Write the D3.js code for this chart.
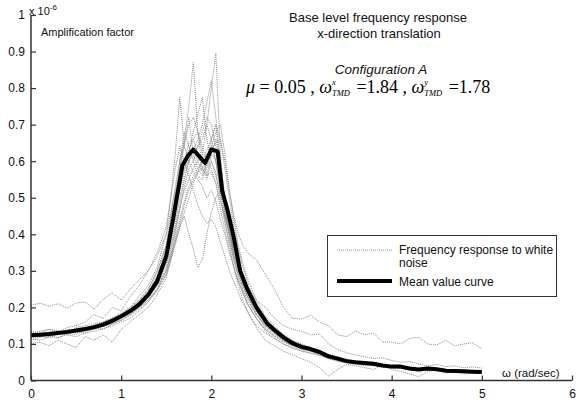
<!DOCTYPE html>
<html>
<head>
<meta charset="utf-8">
<script src="https://cdn.jsdelivr.net/npm/d3@7"></script>
<style>
  body { margin: 0; background: #fff; }
  svg { font-family: 'Liberation Sans', Arial, sans-serif; }
</style>
</head>
<body>
<script>
// mean value curve
const meanOmega = [0,0.1,0.2,0.3,0.4,0.5,0.6,0.7,0.8,0.9,1.0,1.1,1.2,1.3,1.4,1.5,
  1.58,1.68,1.74,1.8,1.87,1.93,2.0,2.07,2.12,2.18,2.25,2.32,2.39,
  2.5,2.62,2.7,2.8,2.9,
  3.0,3.1,3.2,3.3,3.4,3.5,3.6,3.7,3.8,3.9,4.0,4.1,4.2,4.3,4.4,4.5,4.6,4.7,4.8,4.9,5.0]
const meanValue = [0.124,0.125,0.127,0.130,0.133,0.137,0.141,0.146,0.153,0.163,0.176,0.190,0.208,0.234,0.272,0.34,
  0.447,0.589,0.615,0.632,0.612,0.595,0.632,0.627,0.52,0.466,0.39,0.30,0.255,
  0.20,0.156,0.138,0.118,0.102,
  0.092,0.086,0.078,0.066,0.060,0.053,0.050,0.048,0.046,0.041,0.038,0.038,0.033,0.030,0.033,0.031,0.027,0.026,0.025,0.024,0.023]

// white noise runs, sampled on this grid
const traceOmega = [0,0.1,0.2,0.3,0.4,0.5,0.6,0.7,0.8,0.9,1.0,1.1,1.2,1.3,1.4,
  1.5,1.55,1.6,1.65,1.7,1.75,1.8,1.85,1.9,1.95,2.0,2.05,2.1,2.15,2.2,2.25,2.3,2.35,2.4,2.45,2.5,
  2.6,2.7,2.8,2.9,3.0,3.1,3.2,3.3,3.4,3.5,3.6,3.7,3.8,3.9,4.0,4.1,4.2,4.3,4.4,4.5,4.6,4.7,4.8,4.9,5.0]

const run1 = [0.118,0.122,0.116,0.128,0.125,0.134,0.13,0.142,0.148,0.158,0.17,0.182,0.2,0.225,0.26,
  0.31,0.36,0.42,0.47,0.52,0.55,0.58,0.6,0.62,0.7,0.8,0.895,0.62,0.48,0.41,0.35,0.3,0.27,0.235,0.21,0.185,
  0.15,0.13,0.11,0.095,0.088,0.08,0.074,0.068,0.058,0.052,0.049,0.046,0.044,0.04,0.036,0.039,0.032,0.029,0.031,0.03,0.026,0.027,0.024,0.023,0.022]
const run2 = [0.13,0.126,0.133,0.127,0.138,0.132,0.146,0.14,0.156,0.165,0.175,0.195,0.215,0.245,0.29,
  0.36,0.43,0.5,0.58,0.66,0.75,0.87,0.68,0.58,0.55,0.6,0.57,0.5,0.43,0.38,0.33,0.29,0.26,0.23,0.205,0.18,
  0.145,0.125,0.112,0.098,0.09,0.082,0.07,0.065,0.056,0.05,0.052,0.045,0.043,0.042,0.037,0.036,0.034,0.03,0.034,0.029,0.028,0.024,0.026,0.023,0.022]
const run3 = [0.125,0.13,0.124,0.135,0.13,0.14,0.135,0.15,0.16,0.17,0.185,0.2,0.23,0.26,0.31,
  0.4,0.5,0.62,0.775,0.64,0.6,0.57,0.55,0.53,0.5,0.52,0.49,0.44,0.4,0.35,0.31,0.27,0.24,0.21,0.19,0.17,
  0.14,0.12,0.105,0.095,0.085,0.08,0.073,0.062,0.058,0.055,0.048,0.047,0.045,0.04,0.04,0.036,0.032,0.031,0.032,0.03,0.027,0.026,0.024,0.025,0.022]
const run4 = [0.12,0.124,0.13,0.126,0.132,0.136,0.14,0.148,0.15,0.162,0.172,0.188,0.205,0.23,0.265,
  0.32,0.37,0.43,0.5,0.55,0.6,0.63,0.66,0.7,0.76,0.82,0.72,0.6,0.5,0.44,0.38,0.33,0.29,0.26,0.23,0.205,
  0.165,0.14,0.122,0.105,0.095,0.088,0.08,0.07,0.062,0.055,0.051,0.049,0.045,0.042,0.04,0.037,0.034,0.03,0.033,0.032,0.028,0.025,0.026,0.024,0.023]
const run5 = [0.128,0.12,0.128,0.133,0.128,0.14,0.145,0.142,0.155,0.16,0.18,0.19,0.21,0.24,0.28,
  0.35,0.41,0.47,0.52,0.57,0.62,0.68,0.73,0.775,0.66,0.6,0.56,0.51,0.46,0.41,0.36,0.31,0.27,0.24,0.22,0.19,
  0.155,0.135,0.12,0.1,0.094,0.086,0.079,0.067,0.061,0.052,0.05,0.05,0.046,0.041,0.039,0.039,0.033,0.031,0.034,0.031,0.028,0.026,0.025,0.024,0.023]
const run6 = [0.122,0.128,0.12,0.13,0.136,0.13,0.14,0.15,0.148,0.16,0.17,0.186,0.2,0.22,0.25,
  0.3,0.34,0.38,0.42,0.45,0.4,0.36,0.31,0.33,0.4,0.46,0.5,0.52,0.48,0.43,0.37,0.32,0.28,0.25,0.22,0.2,
  0.16,0.14,0.12,0.104,0.094,0.088,0.077,0.068,0.059,0.054,0.05,0.047,0.047,0.042,0.038,0.037,0.034,0.029,0.033,0.03,0.027,0.026,0.025,0.024,0.023]
const run7 = [0.205,0.212,0.203,0.21,0.198,0.212,0.215,0.195,0.222,0.24,0.22,0.25,0.275,0.3,0.35,
  0.42,0.5,0.58,0.64,0.6,0.56,0.52,0.48,0.45,0.43,0.44,0.42,0.38,0.34,0.3,0.27,0.24,0.21,0.19,0.17,0.15,
  0.13,0.115,0.1,0.09,0.082,0.075,0.07,0.06,0.055,0.05,0.046,0.044,0.04,0.038,0.035,0.034,0.03,0.029,0.03,0.028,0.026,0.025,0.023,0.022,0.021]
const run8 = [0.11,0.118,0.125,0.115,0.13,0.125,0.138,0.145,0.14,0.155,0.165,0.18,0.2,0.22,0.25,
  0.29,0.33,0.37,0.42,0.46,0.5,0.54,0.57,0.6,0.63,0.66,0.7,0.66,0.6,0.52,0.45,0.4,0.37,0.35,0.34,0.33,
  0.29,0.25,0.2,0.17,0.168,0.178,0.16,0.15,0.125,0.12,0.135,0.125,0.13,0.105,0.105,0.1,0.115,0.118,0.1,0.097,0.11,0.095,0.1,0.103,0.086]
const run9 = [0.135,0.13,0.14,0.136,0.128,0.145,0.15,0.155,0.16,0.172,0.18,0.2,0.22,0.25,0.3,
  0.37,0.45,0.53,0.6,0.65,0.7,0.72,0.68,0.64,0.6,0.58,0.54,0.49,0.45,0.4,0.36,0.31,0.28,0.26,0.24,0.22,
  0.2,0.17,0.15,0.14,0.135,0.125,0.127,0.1,0.085,0.076,0.07,0.065,0.06,0.062,0.055,0.05,0.052,0.045,0.04,0.044,0.038,0.04,0.035,0.037,0.034]
const run10 = [0.115,0.11,0.12,0.118,0.125,0.12,0.13,0.135,0.142,0.15,0.16,0.17,0.19,0.215,0.25,
  0.3,0.35,0.41,0.48,0.55,0.6,0.64,0.6,0.57,0.59,0.62,0.6,0.52,0.44,0.37,0.31,0.26,0.22,0.19,0.165,0.145,
  0.11,0.095,0.08,0.07,0.06,0.05,0.035,0.012,0.03,0.045,0.04,0.035,0.03,0.042,0.03,0.025,0.018,0.01,0.025,0.028,0.02,0.024,0.018,0.02,0.019]
const run11 = [0.1,0.105,0.095,0.11,0.1,0.09,0.12,0.11,0.125,0.105,0.14,0.16,0.18,0.2,0.235,
  0.28,0.33,0.4,0.47,0.53,0.58,0.6,0.64,0.68,0.72,0.7,0.64,0.55,0.46,0.39,0.33,0.28,0.245,0.21,0.19,0.17,
  0.135,0.115,0.1,0.088,0.08,0.075,0.068,0.06,0.052,0.048,0.045,0.04,0.041,0.036,0.034,0.033,0.029,0.027,0.029,0.027,0.024,0.023,0.022,0.021,0.02]
const run12 = [0.13,0.135,0.14,0.13,0.145,0.15,0.16,0.18,0.17,0.2,0.19,0.23,0.26,0.3,0.34,
  0.4,0.46,0.52,0.56,0.6,0.65,0.66,0.62,0.58,0.56,0.62,0.66,0.6,0.5,0.42,0.35,0.3,0.26,0.23,0.2,0.18,
  0.15,0.13,0.11,0.1,0.09,0.085,0.08,0.07,0.063,0.057,0.053,0.05,0.048,0.043,0.041,0.04,0.035,0.032,0.035,0.033,0.03,0.028,0.027,0.026,0.025]
const run13 = [0.118,0.12,0.125,0.128,0.13,0.132,0.136,0.14,0.148,0.155,0.165,0.178,0.195,0.215,0.245,
  0.29,0.33,0.38,0.43,0.48,0.52,0.55,0.57,0.58,0.6,0.64,0.68,0.7,0.62,0.52,0.44,0.37,0.32,0.28,0.25,0.22,
  0.175,0.15,0.125,0.11,0.1,0.09,0.082,0.072,0.065,0.058,0.053,0.05,0.047,0.044,0.041,0.04,0.036,0.033,0.034,0.032,0.029,0.027,0.026,0.025,0.024]
const run14 = [0.127,0.123,0.13,0.134,0.137,0.14,0.138,0.15,0.158,0.168,0.18,0.195,0.215,0.24,0.285,
  0.35,0.42,0.5,0.58,0.64,0.72,0.62,0.58,0.56,0.58,0.64,0.6,0.52,0.45,0.4,0.34,0.3,0.26,0.23,0.21,0.19,
  0.155,0.13,0.115,0.1,0.09,0.085,0.076,0.066,0.06,0.054,0.05,0.048,0.046,0.04,0.038,0.038,0.033,0.03,0.033,0.031,0.027,0.026,0.025,0.024,0.023]
const run15 = [0.124,0.13,0.126,0.128,0.138,0.134,0.142,0.148,0.152,0.165,0.178,0.192,0.21,0.238,0.28,
  0.34,0.4,0.46,0.53,0.58,0.6,0.62,0.64,0.66,0.7,0.66,0.6,0.54,0.47,0.41,0.36,0.31,0.27,0.24,0.21,0.19,
  0.16,0.135,0.12,0.1,0.092,0.085,0.078,0.066,0.06,0.053,0.05,0.047,0.046,0.041,0.038,0.038,0.033,0.03,0.032,0.031,0.027,0.026,0.025,0.024,0.023]
const run16 = [0.12,0.126,0.122,0.132,0.13,0.138,0.14,0.145,0.154,0.16,0.174,0.19,0.205,0.232,0.27,
  0.33,0.4,0.5,0.6,0.68,0.64,0.6,0.56,0.55,0.6,0.66,0.7,0.58,0.48,0.4,0.34,0.29,0.25,0.22,0.2,0.18,
  0.15,0.13,0.115,0.1,0.09,0.084,0.077,0.067,0.06,0.053,0.05,0.048,0.045,0.041,0.039,0.037,0.033,0.031,0.033,0.03,0.027,0.026,0.025,0.024,0.022]
const run17 = [0.126,0.12,0.13,0.132,0.13,0.14,0.14,0.15,0.155,0.163,0.175,0.19,0.21,0.23,0.26,
  0.3,0.34,0.39,0.44,0.49,0.53,0.56,0.58,0.6,0.62,0.63,0.65,0.66,0.58,0.5,0.42,0.36,0.31,0.27,0.235,0.21,
  0.17,0.145,0.125,0.108,0.097,0.09,0.08,0.07,0.062,0.056,0.052,0.049,0.046,0.042,0.04,0.039,0.034,0.031,0.033,0.031,0.028,0.027,0.025,0.024,0.023]
const run18 = [0.122,0.127,0.131,0.129,0.135,0.138,0.143,0.147,0.155,0.165,0.18,0.196,0.22,0.25,0.3,
  0.37,0.44,0.51,0.56,0.6,0.63,0.66,0.68,0.62,0.56,0.57,0.54,0.47,0.41,0.36,0.31,0.27,0.24,0.21,0.19,0.17,
  0.14,0.122,0.108,0.096,0.087,0.082,0.075,0.064,0.058,0.052,0.049,0.046,0.044,0.04,0.037,0.036,0.032,0.03,0.032,0.03,0.026,0.025,0.024,0.023,0.022]
const runs = [run1, run2, run3, run4, run5, run6, run7, run8, run9, run10, run11, run12, run13, run14, run15, run16, run17, run18]

const xTicks = [0, 1, 2, 3, 4, 5, 6]
const yTicks = [0, 0.1, 0.2, 0.3, 0.4, 0.5, 0.6, 0.7, 0.8, 0.9, 1]

const width = 576, height = 406
const x0 = 31, x1 = 572, yBottom = 380.5, yTop = 15

const svg = d3.select('body').append('svg')
  .attr('width', width)
  .attr('height', height)

const xScale = d3.scaleLinear().domain([0, 6]).range([x0, x1])
const yScale = d3.scaleLinear().domain([0, 1]).range([yBottom, yTop])

const line = d3.line()
  .x(d => xScale(d[0]))
  .y(d => yScale(d[1]))

// gray dotted runs
svg.append('g')
  .selectAll('path')
  .data(runs)
  .enter().append('path')
  .attr('d', r => line(r.map((v, i) => [traceOmega[i], v])))
  .style('fill', 'none')
  .style('stroke', '#8c8c8c')
  .style('stroke-width', 1)
  .style('stroke-dasharray', '1,1')

// mean value
svg.append('path')
  .datum(meanValue.map((v, i) => [meanOmega[i], v]))
  .attr('d', line)
  .style('fill', 'none')
  .style('stroke', '#000')
  .style('stroke-width', 4)
  .style('stroke-linejoin', 'round')

// axes with inward ticks
const xAxis = svg.append('g')
  .attr('transform', `translate(0, ${yBottom})`)
  .call(d3.axisBottom(xScale).tickValues(xTicks).tickSize(-5).tickPadding(9).tickFormat(d3.format('d')))
const yAxis = svg.append('g')
  .attr('transform', `translate(${x0}, 0)`)
  .call(d3.axisLeft(yScale).tickValues(yTicks).tickSize(-5).tickPadding(6).tickFormat(d => d === 0 || d === 1 ? String(d) : d3.format('.1f')(d)))

svg.selectAll('.domain').attr('d', null)
xAxis.append('line').attr('x1', x0).attr('x2', x1).attr('stroke', '#333').attr('stroke-width', 1.5)
yAxis.append('line').attr('y1', yTop).attr('y2', yBottom).attr('stroke', '#333').attr('stroke-width', 1.5)
svg.selectAll('.tick line').attr('stroke', '#333').attr('stroke-width', 1.2)
svg.selectAll('.tick text').attr('fill', '#111').style('font-size', '12px').style('font-family', 'Liberation Sans, Arial, sans-serif')

// axis annotations
const exp = svg.append('text').attr('x', 29).attr('y', 15).style('font-size', '11px').attr('fill', '#111')
exp.append('tspan').text('x 10')
exp.append('tspan').attr('dy', -5).style('font-size', '8px').text('-6')

svg.append('text').attr('x', 41).attr('y', 36).style('font-size', '11px').attr('fill', '#111')
  .text('Amplification factor')

svg.append('text').attr('x', 502).attr('y', 377).style('font-size', '11.5px').attr('fill', '#111')
  .text('ω (rad/sec)')

// titles
svg.append('text').attr('x', 378).attr('y', 22).attr('text-anchor', 'middle')
  .style('font-size', '13px').attr('fill', '#111').text('Base level frequency response')
svg.append('text').attr('x', 379).attr('y', 38).attr('text-anchor', 'middle')
  .style('font-size', '13px').attr('fill', '#111').text('x-direction translation')
svg.append('text').attr('x', 381).attr('y', 74).attr('text-anchor', 'middle')
  .style('font-size', '13.5px').style('font-style', 'italic').attr('fill', '#111').text('Configuration A')

// equation line, pieces laid out left to right
const eq = svg.append('g').style('font-family', 'Liberation Serif, Times New Roman, serif').attr('fill', '#000')
let cx = 246
const baseY = 93
function piece (txt, size, italic, dy, advance) {
  const t = eq.append('text').attr('x', cx).attr('y', baseY + dy)
    .attr('xml:space', 'preserve').style('white-space', 'pre')
    .style('font-size', size + 'px').style('font-style', italic ? 'italic' : 'normal').text(txt)
  const w = t.node().getComputedTextLength()
  if (advance) cx += w
  return w
}
piece('μ', 18, true, 0, true)
piece(' = 0.05 , ', 18, false, 0, true)
piece('ω', 18, true, 0, true)
let w1 = piece('x', 8.5, true, -8, false)
let w2 = piece('TMD', 8.5, true, 3, false)
cx += Math.max(w1, w2) + 2
piece(' =1.84 , ', 18, false, 0, true)
piece('ω', 18, true, 0, true)
w1 = piece('y', 8.5, true, -8, false)
w2 = piece('TMD', 8.5, true, 3, false)
cx += Math.max(w1, w2) + 2
piece(' =1.78', 18, false, 0, true)

// legend
const lg = svg.append('g')
lg.append('rect').attr('x', 327.5).attr('y', 235.5).attr('width', 229).attr('height', 61)
  .attr('fill', '#fff').attr('stroke', '#333').attr('stroke-width', 1)
lg.append('line').attr('x1', 337).attr('x2', 392).attr('y1', 250).attr('y2', 250)
  .style('stroke', '#9a9a9a').style('stroke-width', 1).style('stroke-dasharray', '1,1')
lg.append('line').attr('x1', 337).attr('x2', 392).attr('y1', 281).attr('y2', 281)
  .style('stroke', '#000').style('stroke-width', 4)
lg.append('text').attr('x', 399).attr('y', 254).style('font-size', '12px').attr('fill', '#111')
  .text('Frequency response to white')
lg.append('text').attr('x', 399).attr('y', 267).style('font-size', '12px').attr('fill', '#111')
  .text('noise')
lg.append('text').attr('x', 399).attr('y', 285.5).style('font-size', '12px').attr('fill', '#111')
  .text('Mean value curve')
</script>
</body>
</html>
